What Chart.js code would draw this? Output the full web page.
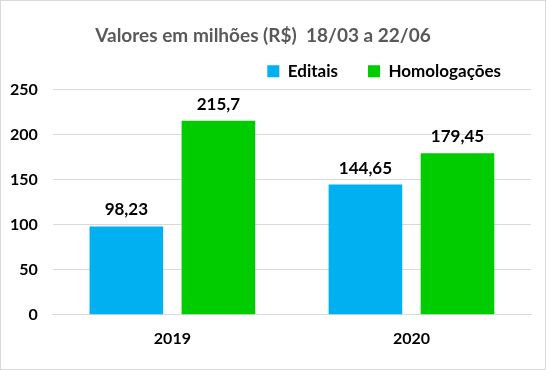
<!DOCTYPE html>
<html>
<head>
    <meta charset="utf-8"/>
    <title>Valores em milhões</title>
    <script src="https://cdn.jsdelivr.net/npm/chart.js@4"></script>
    <style>
        html, body { margin: 0; padding: 0; background: #fff; }
        .chart-container { width: 544px; height: 368px; border: 1px solid #d9d9d9; }
    </style>
</head>
<body>
    <div class="chart-container">
        <canvas id="myChart"></canvas>
    </div>
    <script>
        const years = ['2019', '2020'];
        const editais = [98.23, 144.65];
        const homologacoes = [215.7, 179.45];
        const seriesNames = ['Editais', 'Homologações'];

        const FONT = "Lato, 'Open Sans', sans-serif";

        function fmt(v) {
            return String(v).replace('.', ',');
        }

        // draw value labels above each bar
        const valueLabels = {
            id: 'valueLabels',
            afterDatasetsDraw(chart) {
                const ctx = chart.ctx;
                ctx.save();
                ctx.font = "bold 17px " + FONT;
                ctx.fillStyle = '#000';
                ctx.textAlign = 'center';
                ctx.textBaseline = 'bottom';
                chart.data.datasets.forEach((ds, i) => {
                    chart.getDatasetMeta(i).data.forEach((bar, j) => {
                        ctx.fillText(fmt(ds.data[j]), bar.x, bar.y - 8);
                    });
                });
                ctx.restore();
            }
        };

        const ctx = document.getElementById('myChart').getContext('2d');
        new Chart(ctx, {
            type: 'bar',
            data: {
                labels: years,
                datasets: [{
                    label: seriesNames[0],
                    data: editais,
                    backgroundColor: '#00b0f0',
                    categoryPercentage: 0.77,
                    barPercentage: 0.8,
                }, {
                    label: seriesNames[1],
                    data: homologacoes,
                    backgroundColor: '#00cc00',
                    categoryPercentage: 0.77,
                    barPercentage: 0.8,
                }]
            },
            options: {
                responsive: true,
                maintainAspectRatio: false,
                animation: false,
                layout: { padding: { left: -6, right: 14, top: 6, bottom: 15 } },
                plugins: {
                    title: {
                        display: true,
                        text: 'Valores em milhões (R$)  18/03 a 22/06',
                        color: '#595959',
                        font: { family: FONT, size: 19, weight: 'bold' },
                        padding: { top: 17, bottom: -14 },
                    },
                    legend: {
                        position: 'top',
                        align: 'end',
                        labels: {
                            color: '#000',
                            boxWidth: 12,
                            boxHeight: 12,
                            padding: 30,
                            font: { family: FONT, size: 17, weight: 'bold' },
                        }
                    },
                    tooltip: { enabled: false },
                },
                scales: {
                    x: {
                        grid: { display: false },
                        border: { color: '#d9d9d9' },
                        ticks: {
                            color: '#000',
                            padding: 6,
                            font: { family: FONT, size: 16, weight: 'bold' },
                        }
                    },
                    y: {
                        min: 0,
                        max: 250,
                        ticks: {
                            stepSize: 50,
                            color: '#000',
                            padding: 15,
                            font: { family: FONT, size: 16, weight: 'bold' },
                        },
                        grid: { color: '#d9d9d9', drawTicks: false },
                        border: { display: false },
                    }
                }
            },
            plugins: [valueLabels]
        });
    </script>
</body>
</html>
